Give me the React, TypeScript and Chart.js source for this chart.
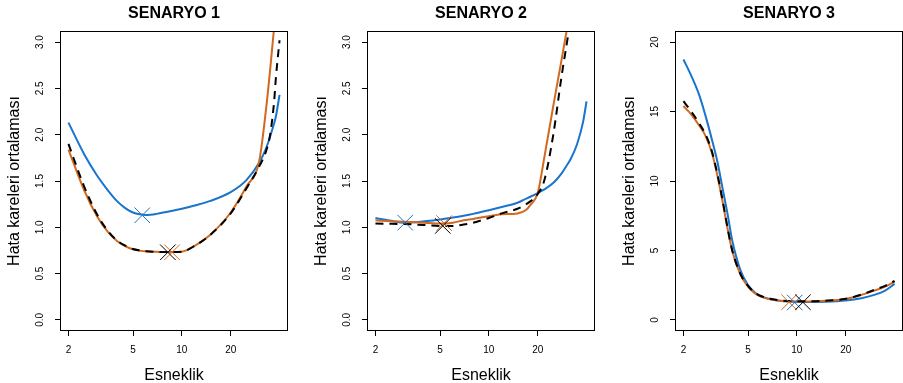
import React, { useEffect, useRef } from 'react';
import { Chart, registerables } from 'chart.js';

Chart.register(...registerables);

const FONT = '"Liberation Sans", Arial, Helvetica, sans-serif';
const BLUE = '#1874CD';
const ORANGE = '#D2691E';
const BLACK = '#000000';

const X_TICKS = [2, 5, 10, 20];
const X_LABELS = ['2', '5', '10', '20'];
const X_MIN = 1.774;
const X_MAX = 45.1;

const TITLES = ['SENARYO 1', 'SENARYO 2', 'SENARYO 3'];
const X_TITLE = 'Esneklik';
const Y_TITLE = 'Hata kareleri ortalaması';

// ---- Panel 1 ----
const S1_X = [2, 2.5, 3, 3.5, 4, 4.5, 5, 5.5, 6, 7, 8, 10, 12, 15, 20, 25, 30, 33, 35, 37, 38, 40];
const S1_BLUE = [2.13, 1.79, 1.56, 1.4, 1.28, 1.205, 1.16, 1.14, 1.133, 1.145, 1.165, 1.2, 1.235, 1.285, 1.38, 1.51, 1.7, 1.85, 1.98, 2.12, 2.2, 2.43];
const S1_ORANGE = [1.84, 1.4, 1.12, 0.95, 0.85, 0.795, 0.763, 0.748, 0.74, 0.735, 0.732, 0.737, 0.8, 0.92, 1.16, 1.44, 1.72, 2.27, 2.7, 3.15, 3.4, 3.9];
const S1_BLACK = [1.9, 1.44, 1.14, 0.96, 0.855, 0.8, 0.765, 0.75, 0.742, 0.735, 0.732, 0.737, 0.8, 0.92, 1.15, 1.42, 1.66, 1.82, 2.0, 2.35, 2.62, 3.02];
const S1_MIN_BLUE = [5.7, 1.13];
const S1_MIN_ORANGE = [8.7, 0.73];
const S1_MIN_BLACK = [8.2, 0.73];

// ---- Panel 2 ----
const S2_X = [2, 2.5, 3, 3.5, 4, 5, 6, 7, 8, 10, 12, 15, 17, 18, 20, 22, 25, 28, 30, 32, 35, 38, 40];
const S2_BLUE = [1.1, 1.07, 1.05, 1.055, 1.065, 1.085, 1.105, 1.125, 1.145, 1.185, 1.22, 1.265, 1.31, 1.33, 1.37, 1.41, 1.48, 1.58, 1.66, 1.74, 1.9, 2.13, 2.36];
const S2_ORANGE = [1.075, 1.065, 1.06, 1.055, 1.05, 1.04, 1.05, 1.075, 1.09, 1.12, 1.14, 1.15, 1.19, 1.24, 1.37, 1.76, 2.32, 2.8, 3.1, 3.4, 3.8, 4.2, 4.5];
const S2_BLACK = [1.04, 1.038, 1.035, 1.03, 1.025, 1.015, 1.015, 1.03, 1.05, 1.1, 1.15, 1.2, 1.25, 1.28, 1.36, 1.51, 2.01, 2.62, 2.95, 3.25, 3.6, 4.0, 4.3];
const S2_MIN_BLUE = [3.05, 1.05];
const S2_MIN_ORANGE = [5.3, 1.045];
const S2_MIN_BLACK = [5.2, 1.015];

// ---- Panel 3 ----
const S3_X = [2, 2.25, 2.5, 2.75, 3, 3.25, 3.5, 3.75, 4, 4.5, 5, 5.5, 6, 7, 8, 10, 12, 15, 20, 25, 30, 35, 40];
const S3_BLUE = [18.75, 17.5, 16.2, 14.6, 12.95, 11.3, 9.35, 7.55, 5.7, 3.55, 2.5, 1.98, 1.7, 1.47, 1.36, 1.29, 1.28, 1.3, 1.39, 1.56, 1.8, 2.11, 2.59];
const S3_ORANGE = [15.4, 14.75, 14.0, 13.2, 12.0, 10.3, 8.4, 6.5, 4.95, 3.24, 2.4, 1.92, 1.68, 1.46, 1.37, 1.33, 1.33, 1.37, 1.51, 1.8, 2.11, 2.4, 2.76];
const S3_BLACK = [15.75, 14.95, 14.15, 13.3, 12.1, 10.4, 8.5, 6.55, 5.0, 3.28, 2.45, 1.97, 1.72, 1.5, 1.4, 1.35, 1.34, 1.38, 1.52, 1.82, 2.16, 2.45, 2.8];
const S3_MIN_BLUE = [9.7, 1.25];
const S3_MIN_ORANGE = [8.95, 1.27];
const S3_MIN_BLACK = [10.9, 1.27];

const Y12_TICKS = [0, 0.5, 1, 1.5, 2, 2.5, 3];
const Y12_LABELS = ['0.0', '0.5', '1.0', '1.5', '2.0', '2.5', '3.0'];
const Y3_TICKS = [0, 5, 10, 15, 20];
const Y3_LABELS = ['0', '5', '10', '15', '20'];

const PANELS = [
  { left: 0, title: TITLES[0], xs: S1_X, blue: S1_BLUE, orange: S1_ORANGE, black: S1_BLACK, mb: S1_MIN_BLUE, mo: S1_MIN_ORANGE, mk: S1_MIN_BLACK, ymin: -0.12, ymax: 3.12, yt: Y12_TICKS, yl: Y12_LABELS, ypad: 7.5 },
  { left: 307, title: TITLES[1], xs: S2_X, blue: S2_BLUE, orange: S2_ORANGE, black: S2_BLACK, mb: S2_MIN_BLUE, mo: S2_MIN_ORANGE, mk: S2_MIN_BLACK, ymin: -0.12, ymax: 3.12, yt: Y12_TICKS, yl: Y12_LABELS, ypad: 7.5 },
  { left: 615, title: TITLES[2], xs: S3_X, blue: S3_BLUE, orange: S3_ORANGE, black: S3_BLACK, mb: S3_MIN_BLUE, mo: S3_MIN_ORANGE, mk: S3_MIN_BLACK, ymin: -0.8, ymax: 20.8, yt: Y3_TICKS, yl: Y3_LABELS, ypad: 9 },
];

const CANVAS_W = 290;
const CANVAS_H = 383;

const framePlugin = {
  id: 'frame',
  afterDraw(chart: any) {
    const { ctx, chartArea: a } = chart;
    ctx.save();
    ctx.strokeStyle = '#000';
    ctx.lineWidth = 1;
    const l = Math.round(a.left) + 0.5;
    const t = Math.round(a.top) + 0.5;
    const r = Math.round(a.right) - 0.5;
    const b = Math.round(a.bottom) - 0.5;
    ctx.strokeRect(l, t, r - l, b - t);
    ctx.restore();
  },
};

function makeConfig(p: any) {
  const pts = (xs: number[], ys: number[]) => xs.map((x, i) => ({ x, y: ys[i] }));
  const line = (label: string, ys: number[], color: string, dash: number[]) => ({
    type: 'line',
    label,
    data: pts(p.xs, ys),
    borderColor: color,
    backgroundColor: color,
    borderWidth: 2,
    borderDash: dash,
    pointRadius: 0,
    pointHoverRadius: 0,
    cubicInterpolationMode: 'monotone',
    fill: false,
  });
  const mark = (label: string, m: number[], color: string) => ({
    type: 'line',
    label,
    data: [{ x: m[0], y: m[1] }],
    showLine: false,
    pointStyle: 'crossRot',
    pointRadius: 11,
    pointHoverRadius: 11,
    pointBorderWidth: 1,
    pointBorderColor: color,
    pointBackgroundColor: color,
    borderColor: color,
    backgroundColor: color,
  });
  const tickFont = { family: FONT, size: 10 };
  const titleFont = { family: FONT, size: 16, lineHeight: 1 };
  return {
    type: 'line',
    data: {
      datasets: [
        mark('min siyah', p.mk, BLACK),
        mark('min turuncu', p.mo, ORANGE),
        mark('min mavi', p.mb, BLUE),
        line('siyah', p.black, BLACK, [8, 6]),
        line('turuncu', p.orange, ORANGE, []),
        line('mavi', p.blue, BLUE, []),
      ],
    },
    options: {
      animation: false,
      responsive: false,
      events: [],
      layout: { autoPadding: false, padding: { left: 0, right: 2, top: 0, bottom: 0 } },
      plugins: {
        legend: { display: false },
        tooltip: { enabled: false },
        title: {
          display: true,
          text: p.title,
          color: '#000',
          font: { family: FONT, size: 16, weight: 'bold', lineHeight: 1 },
          padding: { top: 6, bottom: 9 },
          fullSize: false,
        },
      },
      scales: {
        x: {
          type: 'logarithmic',
          min: X_MIN,
          max: X_MAX,
          afterBuildTicks: (s: any) => {
            s.ticks = X_TICKS.map((v) => ({ value: v }));
          },
          ticks: {
            autoSkip: false,
            minRotation: 0,
            maxRotation: 0,
            padding: 8.5,
            color: '#000',
            font: tickFont,
            callback: (_v: any, i: number) => X_LABELS[i],
          },
          grid: { drawOnChartArea: false, drawTicks: true, tickLength: 5, color: '#000', lineWidth: 1 },
          border: { display: false },
          title: { display: true, text: X_TITLE, color: '#000', font: titleFont, padding: { top: 0, bottom: -1 } },
          afterFit: (s: any) => {
            s.height = 52;
          },
        },
        y: {
          type: 'linear',
          min: p.ymin,
          max: p.ymax,
          afterBuildTicks: (s: any) => {
            s.ticks = p.yt.map((v: number) => ({ value: v }));
          },
          ticks: {
            autoSkip: false,
            minRotation: 90,
            maxRotation: 90,
            crossAlign: 'center',
            padding: p.ypad,
            color: '#000',
            font: tickFont,
            callback: (_v: any, i: number) => p.yl[i],
          },
          grid: { drawOnChartArea: false, drawTicks: true, tickLength: 5, color: '#000', lineWidth: 1 },
          border: { display: false },
          title: { display: true, text: Y_TITLE, color: '#000', font: titleFont, padding: { top: 6.5, bottom: 0 } },
          afterFit: (s: any) => {
            s.width = 60;
          },
        },
      },
    },
    plugins: [framePlugin],
  };
}

function Panel({ p }: { p: any }) {
  const ref = useRef<HTMLCanvasElement | null>(null);
  useEffect(() => {
    if (!ref.current) return;
    const chart = new Chart(ref.current, makeConfig(p) as any);
    return () => chart.destroy();
  }, [p]);
  return (
    <canvas
      ref={ref}
      width={CANVAS_W}
      height={CANVAS_H}
      style={{ position: 'absolute', left: p.left, top: 0, width: CANVAS_W, height: CANVAS_H }}
    />
  );
}

export default function App() {
  return (
    <div
      style={{
        position: 'fixed',
        left: 0,
        top: 0,
        width: 903,
        height: 383,
        overflow: 'hidden',
        background: '#fff',
      }}
    >
      {PANELS.map((p, i) => (
        <Panel key={i} p={p} />
      ))}
    </div>
  );
}
